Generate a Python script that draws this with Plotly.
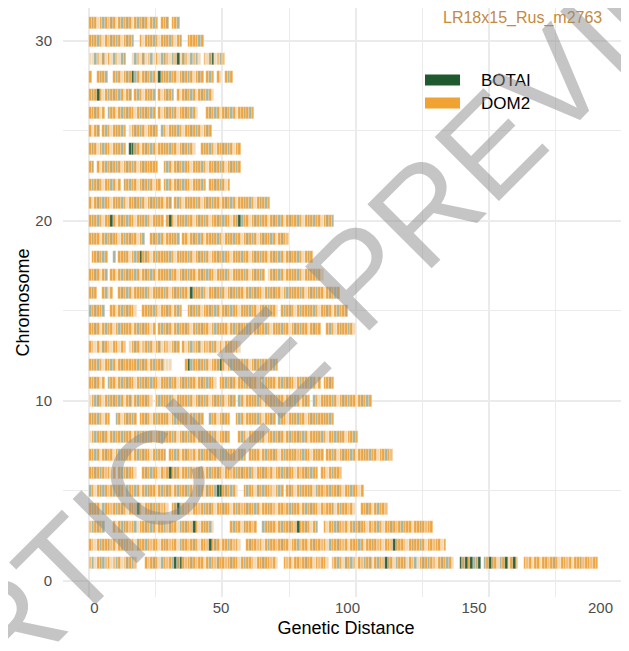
import plotly.graph_objects as go

# ---------------- data ----------------
chromosomes = list(range(1, 32))
chrom_length = [191, 134, 129, 112, 103, 95, 114, 101, 92, 106,
                92, 71, 57, 100, 97, 94, 88, 84, 75, 92,
                68, 53, 57, 57, 46, 62, 47, 54, 51, 43, 34]

# ancestry painting, ~1 cM per character, groups of 10 separated by "|"
# O = DOM2, o = DOM2 (light), b = pale, g = BOTAI (light), G = BOTAI, m = mixed, . = no data
pattern = [
    "ogbOmgoObo|gObomOgo..|.OoOmObgOo|OgGmGOoOmO|oOObOgOomO|OoOmOObOgO|OobOOmOOoO|b..OoObOOo|OmOObOoOOb|.oOgObmOgo|bOogOmbOgO|oGmObgOOmb|OogbOmOgOo|bOmOgOb..G|mGOGgmG.gO|GmObgOGbOG|o..OoObOOb|OOoOmObOOo|ObOOmoOOoO|O",
    "OobOgOOmoO|bOOgOoObmO|OgOoOObOmO|oOObgOOoOm|ObOOoGOmOb|OOgOoOb..O|mOOoObOgOO|oOmOObOOgo|OObOmOOoOb|gOOmOoObOO|OgObOOmOoO|bOOoGmOOob|OmOOgObOOo|OObO",
    "ogOmOg...O|bOgmOoOgbO|OmOgObOOgo|mOObgOmOoG|ObOmOgb...|...OgOObmO|OoO..gOmOO|bOgOOmOoGO|OmObOg..Ob|OOgmOoObOg|OmOObOoOgO|bOOmOoOgOO|ObOOmOoOO",
    "OmOObgOOoO|gOmObOOoGO|bOOmOgOoOb|.OmGgOoObO|OoOgOmObOO|mOObOgOoOm|OOgObOOmOo|bOOoOgmOOb|OgOmOObOoO|OmbOgOOoOb|..OOmObOgO|Oo",
    "gObOmgOoOg|OmObgOOgOb|OgmOObOgOm|ObOgOOmgOb|OgObmOOgGG|OmOgOb..Og|OObmOgOOob|OgO.OmObOg|OOmObgOOoO|gOOmObOOgO|ObO",
    "OOmOgOoObO|.OgOmOOb..|OmOgOObOoO|GOmObOOgOo|OmObOgOOmO|bOOoOgOmOO|gObOOmOoOb|OOgOmOObOo|OmOgOO.OOb|OgOOo",
    "OOgObOmOOb|OgOmOObOgO|mOObOgOOm.|OOgObOmOoO|bOgOOmOObO|gOmOObOgO.|OmOObOgOOm|ObOgOOmOoO|gOObOmOO.O|OgObOmOOgO|bOOmOgOObO|OgOo",
    "bOgOOmObOg|OOgmOObOgO|mOgObOOgmO|OgObOmOgOO|bOmgOOgObO|OmO...OgOb|OOmOgObOOg|OmObOgOOmO|gObOOmOgOb|OOgOmObOOg|O",
    "OmOgObOO..|gObOmOgO.O|OmObOgOOmO|bOgOmOObOg|OmO..gOObO|mOO..OgObO|OmOgObOOmO|.gOObOmOgO|ObOmOgOOmO|gO",
    "bOgmObOgOm|OgObOmbOgO|OmOb.OgOmO|gObOmOOgOb|OmOgObOmOg|ObOmO.gObO|OmOgObOOmO|gOObOmOgOb|OmO.gObOmO|OgObOmOgOO|bOmOgO",
    "OOmObO.gOO|bOgOmOObOg|OmOgOObOmO|gOObOmOgOO|bOmOgOOb.O|OgOmObOOgO|mOObOgOmOO|bOgOmOObOg|OmOgObO.OO|mO",
    "OmOgObOOgO|bOmOOOOOgO|mObOgOOmbb|b.....OGgO|OmOgObOOmG|ObOgOmOOgO|bOmOgOObOg|O",
    "OobObmOobO|ObOo.bOmOb|oOgObOmbOo|bOmO.ObOgo|OmbOoOgObO|bOmOoOb",
    "OOmObOgOOb|OgOmOObOgO|mOObO.OgOm|ObOgOOmObO|gOmOObOgOm|OObOgOmOOg|ObOmOOgObO|mOgOObOmOg|OObOmOO..O|gObOmOOgOb",
    "gOmOOg..OO|bOgOmOOb..|OOmOgObOOm|ObOgO..OmO|gObOOmOgOb|OmOgOObOmO|gOObOmOgOO|b.OgOmObOg|OOmOgObOOm|ObOgOOm",
    "OmO..OgbO.|.OmOgObOOm|OgObOmOOgO|bOmOgOObGO|mOgObOOmOg|ObOmOgOObO|gOmOObOgOm|OObOgOmOOg|ObOmOgOObO|mOgO",
    "OOmObOg.OO|bOgOmOOgOb|OmOgObOOmO|gOObOmOgOO|bOmOgOObOm|OgObOmOOgO|bOmOgO.bOm|OgObOOmOgO|bOmOOgOb",
    ".OOmOgO..g|.OOmObOgOG|OmObOgOOmO|gObOmOOgOb|OmOgObOOmO|gOObOmOgOO|bOmOgOObOm|OgObOmOOgO|bOmO",
    "OmOObOgOmO|ObOgOmOObO|g..OmOgObO|OmOg.OObOm|OgObOOmOgO|bOmOgOObOm|OgObOmOOgO|bOmOo",
    "OmOgObOOGO|bOmOgOObOm|OgObOmOO.O|GObOmOgOOb|OmOgObOOmO|gOObOmGgOO|bOmOgOObOm|OgObOmOOgO|bOmOgOObOm|Og",
    "ObOmOgOObO|mOgObOOmOg|ObOmOgOObO|m.OgObOmOO|gObOmOgOOb|OmOgObOOmO|gObOmOgO",
    "OgOmObOOgO|bO.mOgOObO|mOgObOO.Og|ObOmOgOObO|mOgO.OOmOg|ObO",
    "Om.ObOgOmO|gObOmOgObO|mOOOOO..Og|ObOmOgOObO|mOgObOOmOg|ObOmOgO",
    "OmObOgOObO|mOgO.GGmOb|OmOgObOOmO|gOObOmOgOb|..OmOgObOO|mOgObOO",
    "ObOm.OgObO|mOgO.bOmOg|ObOOmO.gOb|OmOgObOOmO|gObOmO",
    "OOmObO.gOO|bOgOmOObOg|OmOgO.ObOm|OgObOOmOgO|b...OmOgOb|OmOgObOOmO|gO",
    "OmOGObOgOm|OgObOm.OgO|bOmOg.ObOm|Og.ObOmOgO|bOmOgOb",
    "O..OmOg..O|gObOmOGgOb|OmOgObGOmO|gOObOmOgOb|OmO.OgO.Ob|.OgO",
    "bbgobmbObg|obgm..bgob|mbogbObgmo|bgoGbmobgo|gb.obmGbog|o",
    "OmOgObOomO|gObOmOg..O|bOmOgObOmO|gObOm..OOO|OgO",
    "OmObOgOomO|bOgOmObOgO|mObOgO.OOm|.OOg",
]

stripe_colors = {"O": "#EEA540", "o": "#F1BF7C", "b": "#F1DAB9",
                 "g": "#A6B5A0", "G": "#33613A", "m": "#C6A668"}

legend_names = ["BOTAI", "DOM2"]
legend_colors = ["#1F5A2E", "#F0A232"]

x_ticks = [0, 50, 100, 150, 200]
y_ticks = [0, 10, 20, 30]
title_text = "LR18x15_Rus_m2763"
watermark = "ARTICLE PREVIEW"

# ---------------- one bar per cell ----------------
cells_by_color = {k: {"y": [], "base": [], "x": []} for k in stripe_colors}
for chrom, length, pat in zip(chromosomes, chrom_length, pattern):
    cells = pat.replace("|", "")
    step = length / len(cells)
    for i, c in enumerate(cells):
        if c in stripe_colors:
            cells_by_color[c]["y"].append(chrom)
            cells_by_color[c]["base"].append(i * step)
            cells_by_color[c]["x"].append(step)

fig = go.Figure()
for code, col in stripe_colors.items():
    r = cells_by_color[code]
    fig.add_trace(go.Bar(
        y=r["y"], x=r["x"], base=r["base"], orientation="h",
        width=0.65,
        marker=dict(color=col, line=dict(width=0.5, color="rgba(255,255,255,0.45)")),
        showlegend=False, hoverinfo="skip"))

FONT = "Liberation Sans, Arial, Helvetica, sans-serif"
GRID = "#EBEBEB"

# the page adds an 8 px body margin, so the figure is laid out 8 px smaller
W, H = 621, 643
ML, MB = 55, 54
fig.update_layout(
    width=W, height=H,
    margin=dict(l=ML, r=0, t=0, b=MB, autoexpand=False),
    plot_bgcolor="white", paper_bgcolor="white",
    barmode="overlay", bargap=0,
    font=dict(family=FONT, size=15, color="#4D4D4D"),
    xaxis=dict(range=[-9.75, 202.5], tickvals=x_ticks, showticklabels=False,
               showgrid=True, gridcolor=GRID, gridwidth=2, zeroline=False,
               minor=dict(dtick=25, tick0=0, showgrid=True, gridcolor=GRID, gridwidth=1),
               showline=False, ticks="", automargin=False),
    xaxis2=dict(overlaying="x", anchor="y", side="bottom",
                range=[-12.45, 211.26], tickvals=x_ticks,
                showgrid=False, zeroline=False, showline=False, ticks="",
                automargin=False, ticklabelstandoff=0,
                tickfont=dict(family=FONT, size=15, color="#4D4D4D"),
                title=dict(text="Genetic Distance", standoff=6,
                           font=dict(family=FONT, size=18, color="black"))),
    yaxis=dict(range=[-0.89, 31.83], tickvals=y_ticks,
               showgrid=True, gridcolor=GRID, gridwidth=2, zeroline=False,
               minor=dict(dtick=5, tick0=0, showgrid=True, gridcolor=GRID, gridwidth=1),
               showline=False, ticks="", ticklabelstandoff=10, automargin=False,
               tickfont=dict(family=FONT, size=15, color="#4D4D4D"),
               title=dict(text="Chromosome", standoff=1,
                          font=dict(family=FONT, size=18, color="black"))),
)

# invisible trace so the label axis is rendered
fig.add_trace(go.Scatter(x=[None], y=[None], xaxis="x2", yaxis="y",
                         showlegend=False, hoverinfo="skip"))

# ---------------- helpers: screenshot pixel -> paper ----------------
PW = W - ML
PH = H - MB
def px_to_paper(px, py):
    fx, fy = px - 8, py - 8
    return (fx - ML) / PW, (PH - fy) / PH

for k, (name, col) in enumerate(zip(legend_names, legend_colors)):
    yc = 80 + 23 * k
    x0, y0 = px_to_paper(425, yc - 5.5)
    x1, y1 = px_to_paper(460, yc + 5.5)
    fig.add_shape(type="rect", xref="paper", yref="paper",
                  x0=x0, x1=x1, y0=y1, y1=y0,
                  fillcolor=col, line=dict(width=0), layer="above")
    tx, ty = px_to_paper(479, yc + 1)
    fig.add_annotation(xref="paper", yref="paper", x=tx, y=ty,
                       text=name, showarrow=False, xanchor="left", yanchor="middle",
                       font=dict(family=FONT, size=17, color="black"))

tx, ty = px_to_paper(522, 18)
fig.add_annotation(xref="paper", yref="paper", x=tx, y=ty, text=title_text,
                   showarrow=False, xanchor="center", yanchor="middle",
                   font=dict(family=FONT, size=16, color="#C48A3E"))

wx, wy = px_to_paper(335, 300)
fig.add_annotation(xref="paper", yref="paper", x=wx, y=wy, text=watermark,
                   showarrow=False, xanchor="center", yanchor="middle",
                   textangle=-45,
                   font=dict(family=FONT, size=132, color="rgba(140,140,140,0.5)"))

fig.write_html("out.html")
